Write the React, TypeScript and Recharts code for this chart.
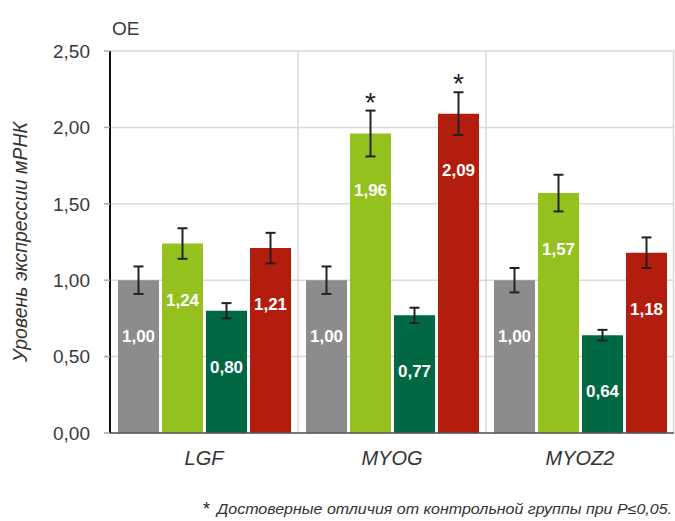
import React from 'react';
import { BarChart, Bar, XAxis, YAxis, CartesianGrid, ErrorBar, LabelList, Label } from 'recharts';

const categories = ['LGF', 'MYOG', 'MYOZ2'];
const controlValues = [1.0, 1.0, 1.0];
const controlErrors = [0.09, 0.09, 0.08];
const group1Values = [1.24, 1.96, 1.57];
const group1Errors = [0.1, 0.15, 0.12];
const group2Values = [0.8, 0.77, 0.64];
const group2Errors = [0.05, 0.05, 0.035];
const group3Values = [1.21, 2.09, 1.18];
const group3Errors = [0.1, 0.14, 0.1];
const group1Significant = [false, true, false];
const group3Significant = [false, true, false];
const yTicks = [0, 0.5, 1.0, 1.5, 2.0, 2.5];

const yAxisTitle = 'Уровень экспрессии мРНК';
const unitLabel = 'OE';
const footnoteText = 'Достоверные отличия от контрольной группы при P≤0,05.';

const COLORS = {
  control: '#8c8c8c',
  g1: '#95c11f',
  g2: '#006843',
  g3: '#b31d0e',
};

const FONT = '"Liberation Sans", Arial, sans-serif';

const data = categories.map((name, i) => ({
  name,
  control: controlValues[i],
  controlErr: controlErrors[i],
  g1: group1Values[i],
  g1Err: group1Errors[i],
  g2: group2Values[i],
  g2Err: group2Errors[i],
  g3: group3Values[i],
  g3Err: group3Errors[i],
}));

const fmt = (v: number) => v.toFixed(2).replace('.', ',');

const makeStar = (flags: boolean[], errs: number[]) => (props: any) => {
  const { x, y, width, height, value, index } = props;
  if (!flags[index]) return null;
  const pxPerUnit = Number(height) / Number(value);
  const errTop = Number(y) - errs[index] * pxPerUnit;
  return (
    <text
      x={Number(x) + Number(width) / 2}
      y={errTop + 1}
      textAnchor="middle"
      fontFamily={FONT}
      fontSize={28}
      fill="#222"
    >
      *
    </text>
  );
};

const valueLabelProps = {
  position: 'insideTop' as const,
  offset: 50,
  fill: '#ffffff',
  fontSize: 17,
  fontWeight: 700,
  fontFamily: FONT,
  formatter: (v: any) => fmt(Number(v)),
};

export default function App() {
  return (
    <div style={{ position: 'absolute', left: 0, top: 0, width: 675, height: 521, background: '#fff' }}>
      <BarChart
        width={675}
        height={521}
        data={data}
        margin={{ top: 51, right: 1, bottom: 58, left: 0 }}
        barCategoryGap={8}
        barGap={3}
      >
        <CartesianGrid
          stroke="#d9d9d9"
          strokeWidth={1.5}
          horizontal={true}
          vertical={true}
          verticalCoordinatesGenerator={({ offset }: any) => [
            offset.left + offset.width / 3,
            offset.left + (2 * offset.width) / 3,
            offset.left + offset.width - 0.5,
          ]}
        />
        <XAxis
          dataKey="name"
          height={30}
          axisLine={{ stroke: '#555', strokeWidth: 1.5 }}
          tickLine={false}
          tickSize={0}
          tickMargin={18}
          tick={{ fontSize: 20, fontStyle: 'italic', fill: '#333', fontFamily: FONT }}
        />
        <YAxis
          width={110}
          domain={[0, 2.5]}
          ticks={yTicks}
          interval={0}
          tickFormatter={fmt}
          axisLine={{ stroke: '#111', strokeWidth: 2 }}
          tickLine={{ stroke: '#aaa', strokeWidth: 1.5 }}
          tickSize={6}
          tickMargin={14}
          tick={{ fontSize: 19, fill: '#3a3a3a', fontFamily: FONT }}
        >
          <Label
            content={(p: any) => {
              const vb = p.viewBox || {};
              const cx = 20;
              const cy = Number(vb.y) + Number(vb.height) / 2;
              return (
                <text
                  x={cx}
                  y={cy}
                  transform={`rotate(-90 ${cx} ${cy})`}
                  textAnchor="middle"
                  dominantBaseline="central"
                  fontFamily={FONT}
                  fontStyle="italic"
                  fontSize={19.5}
                  fill="#333"
                >
                  {yAxisTitle}
                </text>
              );
            }}
          />
        </YAxis>
        <Bar dataKey="control" fill={COLORS.control} isAnimationActive={false}>
          <ErrorBar dataKey="controlErr" width={5} stroke="#222" strokeWidth={2} direction="y" />
          <LabelList dataKey="control" {...valueLabelProps} />
        </Bar>
        <Bar dataKey="g1" fill={COLORS.g1} isAnimationActive={false}>
          <ErrorBar dataKey="g1Err" width={5} stroke="#222" strokeWidth={2} direction="y" />
          <LabelList dataKey="g1" {...valueLabelProps} />
          <LabelList dataKey="g1" content={makeStar(group1Significant, group1Errors)} />
        </Bar>
        <Bar dataKey="g2" fill={COLORS.g2} isAnimationActive={false}>
          <ErrorBar dataKey="g2Err" width={5} stroke="#222" strokeWidth={2} direction="y" />
          <LabelList dataKey="g2" {...valueLabelProps} />
        </Bar>
        <Bar dataKey="g3" fill={COLORS.g3} isAnimationActive={false}>
          <ErrorBar dataKey="g3Err" width={5} stroke="#222" strokeWidth={2} direction="y" />
          <LabelList dataKey="g3" {...valueLabelProps} />
          <LabelList dataKey="g3" content={makeStar(group3Significant, group3Errors)} />
        </Bar>
      </BarChart>
      <svg
        width={675}
        height={521}
        style={{ position: 'absolute', left: 0, top: 0, pointerEvents: 'none' }}
      >
        <text x={112} y={35} fontFamily={FONT} fontSize={19} fill="#3a3a3a">
          {unitLabel}
        </text>
        <text x={203} y={515} fontFamily={FONT} fontSize={18} fill="#222">
          *
        </text>
        <text
          x={217}
          y={514}
          fontFamily={FONT}
          fontStyle="italic"
          fontSize={14}
          fill="#333"
          textLength={455}
          lengthAdjust="spacingAndGlyphs"
        >
          {footnoteText}
        </text>
      </svg>
    </div>
  );
}
